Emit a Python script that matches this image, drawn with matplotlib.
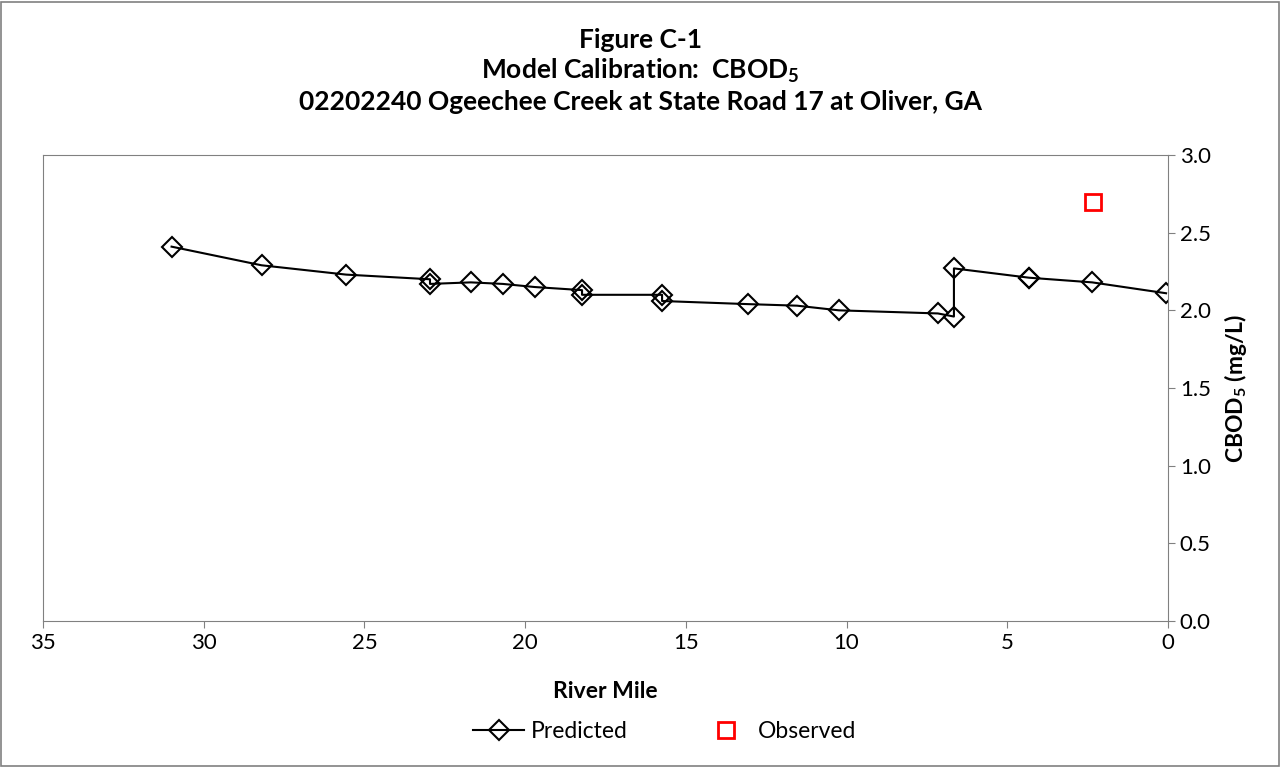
import matplotlib.pyplot as plt

plt.rcParams['font.family'] = ['Lato', 'DejaVu Sans']
plt.rcParams['mathtext.fontset'] = 'custom'
plt.rcParams['mathtext.rm'] = 'Lato'
plt.rcParams['mathtext.bf'] = 'Lato:bold'

# predicted CBOD5 along the reach
pred_mile = [31.0, 28.2, 25.57, 22.96, 22.96, 21.69, 20.69, 19.7, 18.23, 18.23,
             15.74, 15.74, 13.07, 11.54, 10.24, 7.16, 6.66, 6.66, 4.32, 4.32, 2.36, 0.06]
pred_cbod = [2.41, 2.29, 2.23, 2.20, 2.17, 2.18, 2.17, 2.15, 2.13, 2.10,
             2.10, 2.06, 2.04, 2.03, 2.00, 1.98, 1.96, 2.27, 2.21, 2.21, 2.18, 2.11]

# observed
obs_mile = [2.33]
obs_cbod = [2.70]

fig = plt.figure(figsize=(12.81, 7.67), dpi=100)
ax = fig.add_axes([43/1281, 1-621/767, 1125/1281, 466/767])

ax.plot(pred_mile, pred_cbod, color='black', lw=1.5, marker='D', ms=10,
        mfc='none', mec='black', mew=1.5, label='Predicted')
ax.plot(obs_mile, obs_cbod, ls='none', marker='s', ms=11, mfc='none',
        mec='red', mew=2, label='Observed')

ax.set_xlim(35, 0)
ax.set_ylim(0, 3.0)
ax.set_xticks(range(0, 40, 5))
ax.set_yticks([0, 0.5, 1.0, 1.5, 2.0, 2.5, 3.0])
ax.set_yticklabels(['0.0', '0.5', '1.0', '1.5', '2.0', '2.5', '3.0'])
ax.yaxis.tick_right()
ax.yaxis.set_label_position('right')
ax.tick_params(labelsize=16, color='#808080', length=5)
for s in ax.spines.values():
    s.set_color('#808080')

ax.set_xlabel('River Mile', fontsize=16.5, fontweight='bold', labelpad=20)
ax.set_ylabel(r'CBOD$_\mathbf{5}$ (mg/L)', fontsize=16.5, fontweight='bold', labelpad=8)

fig.text(0.5, 1-40/767, 'Figure C-1', ha='center', va='center', fontsize=19, fontweight='bold')
fig.text(0.5, 1-71/767, r'Model Calibration:  CBOD$_\mathbf{5}$', ha='center', va='center',
         fontsize=19, fontweight='bold')
fig.text(0.5, 1-102/767, '02202240 Ogeechee Creek at State Road 17 at Oliver, GA',
         ha='center', va='center', fontsize=19, fontweight='bold')

ax.legend(loc='center', bbox_to_anchor=(622/1125, (621-732)/466), ncol=2, frameon=False,
          fontsize=16.5, columnspacing=3.2, handlelength=2.2, handletextpad=0.3)

fig.patches.append(plt.Rectangle((1/1281, 1/767), 1-3/1281, 1-3/767, transform=fig.transFigure,
                                 fill=False, ec='#808080', lw=1.2))

fig.savefig('out.png', dpi=100)
